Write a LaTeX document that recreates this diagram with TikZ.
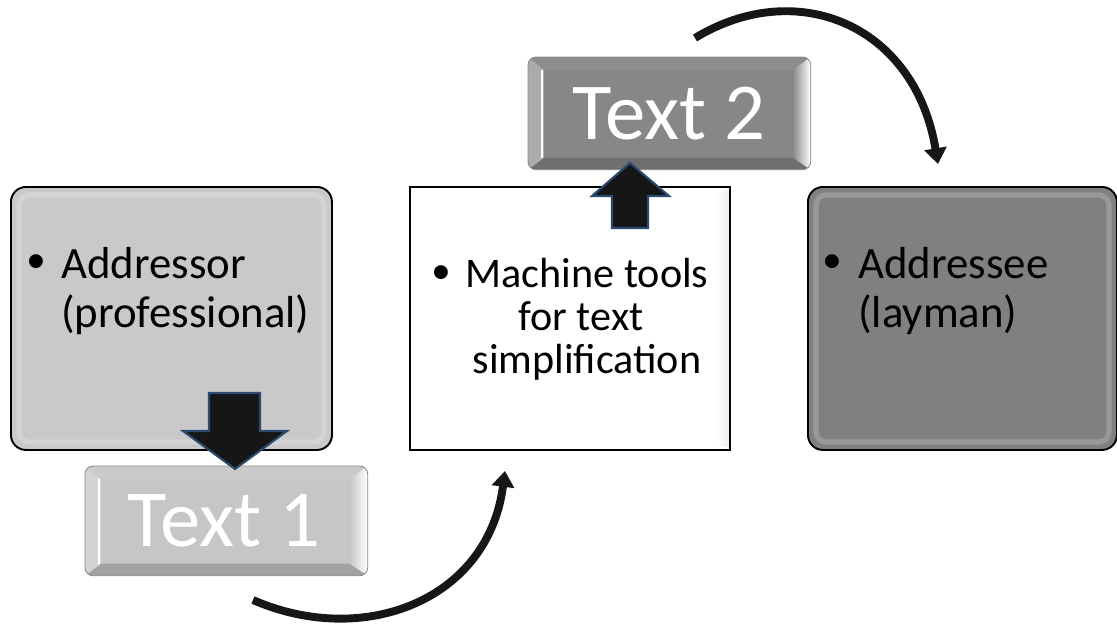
\documentclass[tikz,border=0pt]{standalone}
\usepackage{fontspec}
\setmainfont{Carlito}
\newfontfamily\bulletfont{Liberation Sans}
\usetikzlibrary{arrows.meta,calc}

\definecolor{lightbox}{HTML}{C9C9C9}
\definecolor{darkbox}{HTML}{808080}
\definecolor{keylight}{HTML}{C6C6C6}
\definecolor{keydark}{HTML}{878787}
\definecolor{blockfill}{HTML}{161616}
\definecolor{blockedge}{HTML}{2B4A6F}

% one drawing unit = one pixel of the 1117 x 626 canvas
\newcommand\pxu{0.02cm}
\newcommand\sidesize{\fontsize{25.5}{30}\selectfont}
\newcommand\midsize{\fontsize{24}{29}\selectfont}
\newcommand\dotsize{\fontsize{29}{30}\selectfont}
\newcommand\keysize{\fontsize{46}{55}\selectfont}

% bevel of a key-like box: #1 node, #2 top, #3 bottom, #4 left, #5 inner colour of right edge
\newcommand\keybevel[5]{%
  \begin{scope}
    \clip[rounded corners=8*\pxu] (#1.north west) rectangle (#1.south east);
    \path (#1.north west) coordinate (kNW) (#1.north east) coordinate (kNE)
          (#1.south east) coordinate (kSE) (#1.south west) coordinate (kSW);
    \path ($(kNW)+(16,13)$) coordinate (iNW) ($(kNE)+(-18,13)$) coordinate (iNE)
          ($(kSE)+(-18,-12)$) coordinate (iSE) ($(kSW)+(16,-12)$) coordinate (iSW);
    \fill[#2] (kNW) -- (kNE) -- (iNE) -- (iNW) -- cycle;
    \fill[#3] (kSW) -- (kSE) -- (iSE) -- (iSW) -- cycle;
    \fill[#4] (kNW) -- (iNW) -- (iSW) -- (kSW) -- cycle;
    \shade[left color=#5, right color=white] (kNE) -- (iNE) -- (iSE) -- (kSE) -- cycle;
    \draw[white, line width=1.6pt] ($(iNW)+(-2,0)$) -- ($(iSW)+(-2,0)$);
  \end{scope}
  \draw[black!45, line width=0.5pt, rounded corners=8*\pxu] (#1.north west) rectangle (#1.south east);
}

\tikzset{
  bigbox/.style={draw=black, line width=1.1pt, rounded corners=15*\pxu, inner sep=0pt,
    anchor=north west, minimum height=263*\pxu},
  plainbox/.style={draw=black, line width=1pt, fill=white, inner sep=0pt,
    anchor=north west, minimum height=263*\pxu},
  keybox/.style={inner sep=0pt, anchor=north west, rounded corners=8*\pxu,
    minimum width=282*\pxu},
  keytext/.style={inner sep=0pt, text=white, font=\keysize},
  sidetext/.style={inner sep=0pt, font=\sidesize, anchor=base west},
  midtext/.style={inner sep=0pt, font=\midsize, anchor=base},
  bullettext/.style={inner sep=0pt, font=\bulletfont\dotsize, anchor=base},
  innerglow/.style={white, opacity=0.2, line width=3pt, rounded corners=10*\pxu},
  blockarrow/.style={fill=blockfill, draw=blockedge, line width=1.2pt, line join=miter},
  curvearrow/.style={draw=blockfill, line width=4.5pt,
    -{Triangle[length=9pt,width=12.5pt]}},
}

\begin{document}
\begin{tikzpicture}[x=\pxu, y=-\pxu]
  \useasboundingbox (0,0) rectangle (1117,626);

  % the three main boxes
  \node[bigbox, fill=lightbox, minimum width=321*\pxu] (src) at (10,186) {};
  \node[plainbox, minimum width=320*\pxu] (tool) at (409,186) {};
  \node[bigbox, fill=darkbox, minimum width=309*\pxu] (dst) at (807,186) {};

  \draw[innerglow] ($(src.north west)+(9,9)$) rectangle ($(src.south east)+(-9,-9)$);
  \draw[innerglow] ($(dst.north west)+(9,9)$) rectangle ($(dst.south east)+(-9,-9)$);
  \shade[left color=white, right color=black!7]
    ($(tool.north east)+(-14,4)$) rectangle ($(tool.south east)+(-2,-4)$);

  % texts of the main boxes
  \node[bullettext] (srcdot) at (36,278) {•};
  \node[sidetext] (srcl1) at (61,278) {Addressor};
  \node[sidetext] (srcl2) at (61,327) {(professional)};

  \node[bullettext] (tooldot) at (441,289) {•};
  \node[midtext] (tooll1) at (587,287) {Machine tools};
  \node[midtext] (tooll2) at (581,330) {for text};
  \node[midtext] (tooll3) at (587,373) {simplification};

  \node[bullettext] (dstdot) at (832,278) {•};
  \node[sidetext] (dstl1) at (858,278) {Addressee};
  \node[sidetext] (dstl2) at (858,327) {(layman)};

  % key-like boxes
  \node[keybox, fill=keylight, minimum height=109*\pxu] (t1) at (85,466) {};
  \keybevel{t1}{keylight!92!white}{keylight!82!black}{keylight!75!white}{keylight}
  \node[keytext] (t1lab) at ($(t1.center)+(-2,0)$) {Text 1};

  \node[keybox, fill=keydark, minimum height=112*\pxu] (t2) at (528,57) {};
  \keybevel{t2}{keydark!95!white}{keydark!82!black}{keydark!70!white}{keydark}
  \node[keytext] (t2lab) at (t2.center) {Text 2};

  % block arrows
  \draw[blockarrow] (209,393) -- (260,393) -- (260,431) -- (287,431) -- (235,469)
    -- (183,431) -- (209,431) -- cycle;
  \draw[blockarrow] (630,163) -- (669,196) -- (648,196) -- (648,228) -- (612,228)
    -- (612,196) -- (592,196) -- cycle;

  % curved arrows
  \coordinate (c1s) at (253,600);
  \coordinate (c1e) at (505,471);
  \draw[curvearrow] (c1s) .. controls (363,648) and (488,601) .. (c1e);

  \coordinate (c2s) at (695,38);
  \coordinate (c2e) at (938,164);
  \draw[curvearrow] (c2s) .. controls (797,-24) and (915,25) .. (c2e);
\end{tikzpicture}
\end{document}
